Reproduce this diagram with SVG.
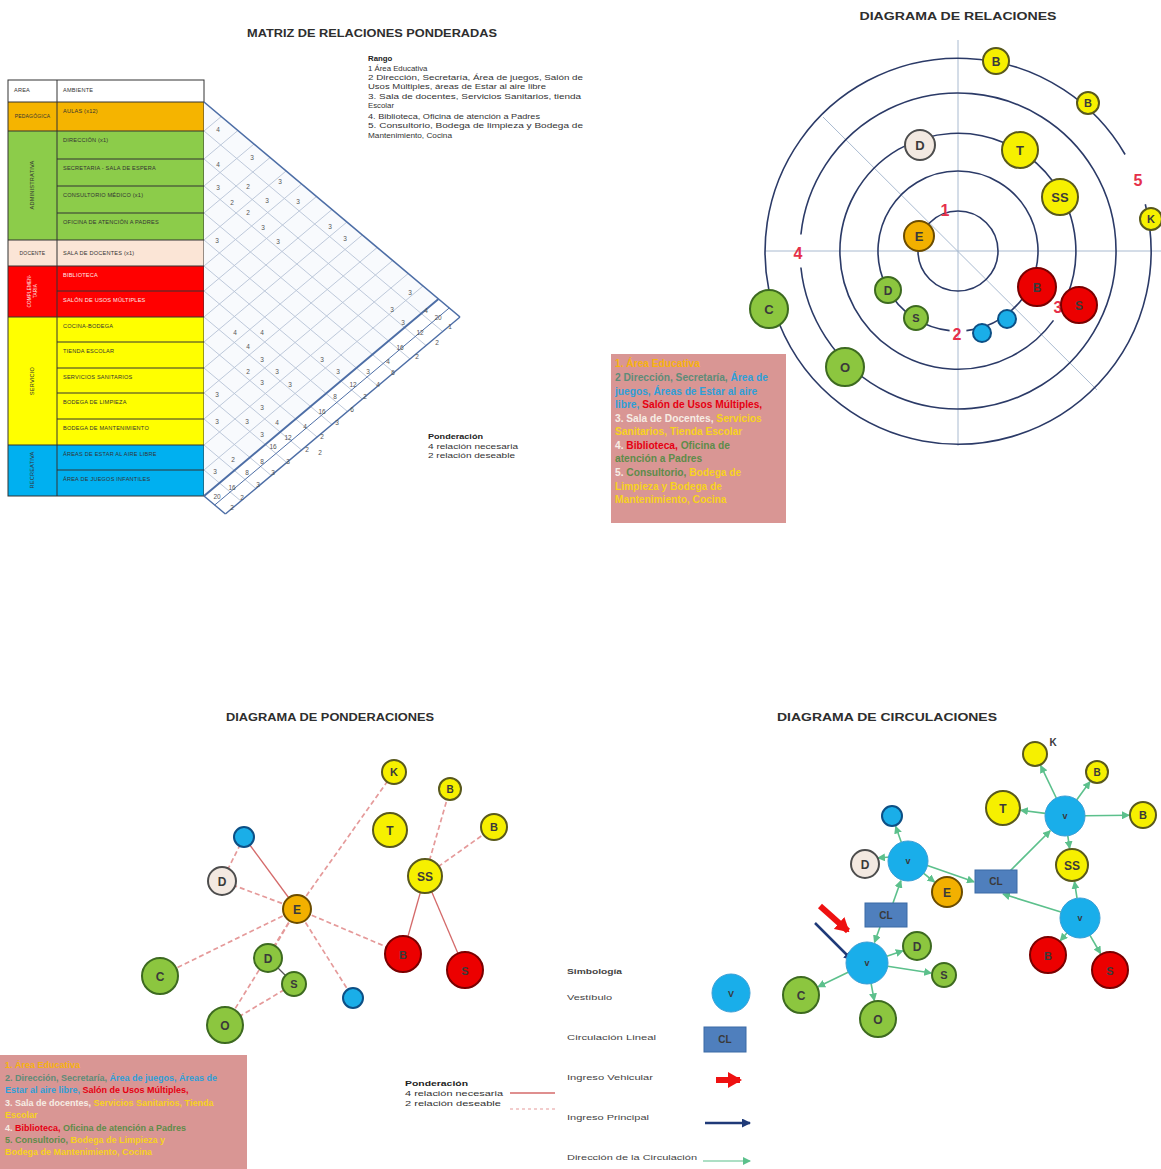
<svg xmlns="http://www.w3.org/2000/svg" width="1161" height="1169" viewBox="0 0 1161 1169">
<style>
.title{font-family:"Liberation Sans",Arial,sans-serif;font-weight:bold;font-size:11.5px;fill:#2e2e2e;text-anchor:middle;}
.tb{font-family:"Liberation Sans",Arial,sans-serif;font-size:5.6px;fill:#333;letter-spacing:0.2px;}
.tw{font-family:"Liberation Sans",Arial,sans-serif;font-size:5.6px;fill:#fbe9e9;letter-spacing:0.2px;}
.mn{font-family:"Liberation Sans",Arial,sans-serif;font-size:6.5px;fill:#555;text-anchor:middle;}
.rg{font-family:"Liberation Sans",Arial,sans-serif;font-size:7.8px;fill:#333;}
.rgb{font-family:"Liberation Sans",Arial,sans-serif;font-size:7.8px;fill:#222;font-weight:bold;}
.ring{fill:none;stroke:#2b3a67;stroke-width:1.6;}
.axis{stroke:#a9bad0;stroke-width:1;fill:none;}
.grid{stroke:#b7c3d6;stroke-width:0.9;fill:none;}
.nl{font-family:"Liberation Sans",Arial,sans-serif;font-weight:bold;text-anchor:middle;fill:#3a3a3a;}
.num{font-family:"Liberation Sans",Arial,sans-serif;font-weight:bold;font-size:16px;fill:#e5304a;text-anchor:middle;}
.pk{font-family:"Liberation Sans",Arial,sans-serif;font-weight:bold;font-size:10.2px;}
.pk2{font-family:"Liberation Sans",Arial,sans-serif;font-weight:bold;font-size:9px;}
.ye{fill:#f6f000;stroke:#59591c;stroke-width:2;}
.gr{fill:#8cc63f;stroke:#3d6a20;stroke-width:2;}
.rd{fill:#ec0000;stroke:#7a0000;stroke-width:2;}
.bl{fill:#1aaee8;stroke:#0c4f85;stroke-width:2;}
.or{fill:#f2b000;stroke:#6b4c00;stroke-width:2;}
.be{fill:#f3e9e1;stroke:#4d4d4d;stroke-width:2;}
.vb{fill:#19aeea;stroke:#3a9fd6;stroke-width:1;}
.cl{fill:#4f7fbd;stroke:#3a6aa5;stroke-width:1;}
.dash{stroke:#e59a9a;stroke-width:1.7;stroke-dasharray:5 3;fill:none;}
.sol{stroke:#d46a6a;stroke-width:1.3;fill:none;}
.ga{stroke:#5cc08c;stroke-width:1.6;fill:none;marker-end:url(#gh);}
.lg{font-family:"Liberation Sans",Arial,sans-serif;font-size:7.6px;fill:#444;}
.c-or{fill:#f7b30f;} .c-te{fill:#5e8c78;} .c-bl{fill:#2f9fd8;} .c-rd{fill:#e60012;} .c-wh{fill:#f6ede4;} .c-ye{fill:#f7d21e;} .c-gr{fill:#5e8c4a;}
</style>
<defs>
<marker id="gh" markerWidth="8" markerHeight="8" refX="7" refY="4" orient="auto" markerUnits="userSpaceOnUse">
<path d="M0,0 L8,4 L0,8 Z" fill="#5cc08c"/>
</marker>
<marker id="nh" markerWidth="9" markerHeight="9" refX="8" refY="4.5" orient="auto" markerUnits="userSpaceOnUse">
<path d="M0,0 L9,4.5 L0,9 Z" fill="#1f3a78"/>
</marker>
<marker id="rh" markerWidth="14" markerHeight="16" refX="12" refY="8" orient="auto" markerUnits="userSpaceOnUse">
<path d="M0,0 L14,8 L0,16 Z" fill="#ee1111"/>
</marker>
</defs>

<!-- ================= MATRIZ ================= -->
<text class="title" x="372" y="37" textLength="250" lengthAdjust="spacingAndGlyphs">MATRIZ DE RELACIONES PONDERADAS</text>

<g id="matrix-table">
<rect x="8" y="80" width="196" height="22" fill="#ffffff"/>
<rect x="8" y="102" width="196" height="29" fill="#f5b400"/>
<rect x="8" y="131" width="196" height="109" fill="#8ccc4a"/>
<rect x="8" y="240" width="196" height="26" fill="#fbe5d6"/>
<rect x="8" y="266" width="196" height="51" fill="#ff0000"/>
<rect x="8" y="317" width="196" height="128" fill="#ffff00"/>
<rect x="8" y="445" width="196" height="51" fill="#00b0f0"/>
<g stroke="#333" stroke-width="1" fill="none">
<rect x="8" y="80" width="196" height="416"/>
<line x1="57" y1="80" x2="57" y2="496"/>
<line x1="8" y1="102" x2="204" y2="102"/>
<line x1="8" y1="131" x2="204" y2="131"/>
<line x1="57" y1="159" x2="204" y2="159"/>
<line x1="57" y1="186" x2="204" y2="186"/>
<line x1="57" y1="213" x2="204" y2="213"/>
<line x1="8" y1="240" x2="204" y2="240"/>
<line x1="8" y1="266" x2="204" y2="266"/>
<line x1="57" y1="291" x2="204" y2="291"/>
<line x1="8" y1="317" x2="204" y2="317"/>
<line x1="57" y1="342" x2="204" y2="342"/>
<line x1="57" y1="368" x2="204" y2="368"/>
<line x1="57" y1="393" x2="204" y2="393"/>
<line x1="57" y1="419" x2="204" y2="419"/>
<line x1="8" y1="445" x2="204" y2="445"/>
<line x1="57" y1="470" x2="204" y2="470"/>
</g>
<text class="tb" x="14" y="92">AREA</text>
<text class="tb" x="63" y="92">AMBIENTE</text>
<text class="tb" x="32.5" y="118" text-anchor="middle" style="font-size:5px">PEDAGÓGICA</text>
<text class="tb" x="63" y="113">AULAS (x12)</text>
<text class="tb" x="34" y="185" text-anchor="middle" transform="rotate(-90 34 185)">ADMINISTRATIVA</text>
<text class="tb" x="63" y="142">DIRECCIÓN (x1)</text>
<text class="tb" x="63" y="170">SECRETARIA - SALA DE ESPERA</text>
<text class="tb" x="63" y="197">CONSULTORIO MÉDICO (x1)</text>
<text class="tb" x="63" y="224">OFICINA DE ATENCIÓN A PADRES</text>
<text class="tb" x="32.5" y="255" text-anchor="middle" style="font-size:5px">DOCENTE</text>
<text class="tb" x="63" y="255">SALA DE DOCENTES (x1)</text>
<text class="tw" x="31" y="291" text-anchor="middle" transform="rotate(-90 31 291)" style="font-size:4.6px">COMPLEMEN-</text>
<text class="tw" x="37" y="291" text-anchor="middle" transform="rotate(-90 37 291)" style="font-size:4.6px">TARIA</text>
<text class="tw" x="63" y="277">BIBLIOTECA</text>
<text class="tw" x="63" y="302">SALÓN DE USOS MÚLTIPLES</text>
<text class="tb" x="34" y="381" text-anchor="middle" transform="rotate(-90 34 381)">SERVICIO</text>
<text class="tb" x="63" y="328">COCINA-BODEGA</text>
<text class="tb" x="63" y="353">TIENDA ESCOLAR</text>
<text class="tb" x="63" y="379">SERVICIOS SANITARIOS</text>
<text class="tb" x="63" y="404">BODEGA DE LIMPIEZA</text>
<text class="tb" x="63" y="430">BODEGA DE MANTENIMIENTO</text>
<text class="tb" x="34" y="470" text-anchor="middle" transform="rotate(-90 34 470)">RECREATIVA</text>
<text class="tb" x="63" y="456">ÁREAS DE ESTAR AL AIRE LIBRE</text>
<text class="tb" x="63" y="481">ÁREA DE JUEGOS INFANTILES</text>
</g>

<g id="matrix-grid">
<polygon points="204,102 438.5,299 204,496" fill="#f8fafd"/>
<g class="grid">
<line x1="204" y1="131" x2="442.7" y2="331.5"/>
<line x1="204" y1="159" x2="426" y2="345.5"/>
<line x1="204" y1="186" x2="410" y2="359"/>
<line x1="204" y1="213" x2="393.9" y2="372.5"/>
<line x1="204" y1="240" x2="377.8" y2="386"/>
<line x1="204" y1="266" x2="362.3" y2="399"/>
<line x1="204" y1="291" x2="347.5" y2="411.5"/>
<line x1="204" y1="317" x2="332" y2="424.5"/>
<line x1="204" y1="342" x2="317.1" y2="437"/>
<line x1="204" y1="368" x2="301.6" y2="450"/>
<line x1="204" y1="393" x2="286.7" y2="462.5"/>
<line x1="204" y1="419" x2="271.3" y2="475.5"/>
<line x1="204" y1="445" x2="255.8" y2="488.5"/>
<line x1="204" y1="470" x2="240.9" y2="501"/>
<line x1="204" y1="131" x2="221.3" y2="116.5"/>
<line x1="204" y1="159" x2="237.9" y2="130.5"/>
<line x1="204" y1="186" x2="254" y2="144"/>
<line x1="204" y1="213" x2="270.1" y2="157.5"/>
<line x1="204" y1="240" x2="286.1" y2="171"/>
<line x1="204" y1="266" x2="301.6" y2="184"/>
<line x1="204" y1="291" x2="316.5" y2="196.5"/>
<line x1="204" y1="317" x2="332" y2="209.5"/>
<line x1="204" y1="342" x2="346.9" y2="222"/>
<line x1="204" y1="368" x2="362.3" y2="235"/>
<line x1="204" y1="393" x2="377.2" y2="247.5"/>
<line x1="204" y1="419" x2="392.7" y2="260.5"/>
<line x1="204" y1="445" x2="408.2" y2="273.5"/>
<line x1="204" y1="470" x2="423" y2="286"/>
</g>
<g fill="none" stroke="#4d6ea6">
<line x1="204" y1="102" x2="460" y2="317" stroke-width="1.6"/>
<line x1="204" y1="496" x2="438.5" y2="299" stroke-width="2"/>
<line x1="214.7" y1="505" x2="449.2" y2="308" stroke-width="1"/>
<line x1="225.4" y1="514" x2="460" y2="317" stroke-width="1.4"/>
<line x1="204" y1="496" x2="225.4" y2="514" stroke-width="1.4"/>
</g>
<g>
<text class="mn" x="218" y="132">4</text><text class="mn" x="252" y="160">3</text><text class="mn" x="218" y="167">4</text>
<text class="mn" x="280" y="184">3</text><text class="mn" x="218" y="190">3</text><text class="mn" x="248" y="189">2</text>
<text class="mn" x="298" y="204">3</text><text class="mn" x="232" y="205">2</text><text class="mn" x="267" y="203">3</text>
<text class="mn" x="248" y="215">2</text><text class="mn" x="263" y="230">3</text><text class="mn" x="330" y="229">3</text>
<text class="mn" x="345" y="241">3</text><text class="mn" x="217" y="243">3</text><text class="mn" x="278" y="244">3</text>
<text class="mn" x="410" y="295">3</text><text class="mn" x="392" y="312">3</text><text class="mn" x="426" y="313">4</text>
<text class="mn" x="438" y="320">20</text><text class="mn" x="403" y="325">3</text><text class="mn" x="450" y="329">1</text>
<text class="mn" x="235" y="335">4</text><text class="mn" x="262" y="335">4</text><text class="mn" x="420" y="335">12</text>
<text class="mn" x="248" y="349">4</text><text class="mn" x="400" y="350">16</text><text class="mn" x="437" y="345">2</text>
<text class="mn" x="262" y="362">3</text><text class="mn" x="322" y="362">3</text><text class="mn" x="388" y="364">4</text>
<text class="mn" x="417" y="359">2</text><text class="mn" x="248" y="374">2</text><text class="mn" x="277" y="374">3</text>
<text class="mn" x="338" y="374">3</text><text class="mn" x="368" y="374">3</text><text class="mn" x="393" y="375">6</text>
<text class="mn" x="262" y="385">3</text><text class="mn" x="290" y="387">3</text><text class="mn" x="353" y="387">12</text>
<text class="mn" x="378" y="387">4</text><text class="mn" x="217" y="397">3</text><text class="mn" x="335" y="399">8</text>
<text class="mn" x="365" y="399">2</text><text class="mn" x="262" y="410">3</text><text class="mn" x="322" y="414">16</text>
<text class="mn" x="352" y="412">6</text><text class="mn" x="217" y="424">3</text><text class="mn" x="247" y="424">3</text>
<text class="mn" x="277" y="425">4</text><text class="mn" x="305" y="429">4</text><text class="mn" x="337" y="425">3</text>
<text class="mn" x="262" y="437">3</text><text class="mn" x="288" y="440">12</text><text class="mn" x="322" y="439">2</text>
<text class="mn" x="273" y="449">16</text><text class="mn" x="307" y="452">2</text><text class="mn" x="233" y="462">2</text>
<text class="mn" x="262" y="464">8</text><text class="mn" x="288" y="464">3</text><text class="mn" x="320" y="455">2</text>
<text class="mn" x="215" y="474">3</text><text class="mn" x="247" y="475">8</text><text class="mn" x="273" y="475">3</text>
<text class="mn" x="232" y="490">16</text><text class="mn" x="258" y="487">3</text><text class="mn" x="217" y="499">20</text>
<text class="mn" x="242" y="500">2</text><text class="mn" x="232" y="510">2</text>
</g>
</g>

<g id="rango">
<text class="rgb" x="368" y="61">Rango</text>
<text class="rg" x="368" y="71">1 Área Educativa</text>
<text class="rg" x="368" y="80" textLength="215" lengthAdjust="spacingAndGlyphs">2 Dirección, Secretaría, Área de juegos, Salón de</text>
<text class="rg" x="368" y="89" textLength="178" lengthAdjust="spacingAndGlyphs">Usos Múltiples, áreas de Estar al aire libre</text>
<text class="rg" x="368" y="99" textLength="213" lengthAdjust="spacingAndGlyphs">3. Sala de docentes, Servicios Sanitarios, tienda</text>
<text class="rg" x="368" y="108">Escolar</text>
<text class="rg" x="368" y="119" textLength="172" lengthAdjust="spacingAndGlyphs">4. Biblioteca, Oficina de atención a Padres</text>
<text class="rg" x="368" y="128" textLength="215" lengthAdjust="spacingAndGlyphs">5. Consultorio, Bodega de limpieza y Bodega de</text>
<text class="rg" x="368" y="138" textLength="84" lengthAdjust="spacingAndGlyphs">Mantenimiento, Cocina</text>
</g>

<g id="ponderacion-top">
<text class="rgb" x="428" y="439" style="font-size:7px" textLength="55" lengthAdjust="spacingAndGlyphs">Ponderación</text>
<text class="rg" x="428" y="449" style="font-size:7px" textLength="90" lengthAdjust="spacingAndGlyphs">4 relación necesaria</text>
<text class="rg" x="428" y="458" style="font-size:7px" textLength="87" lengthAdjust="spacingAndGlyphs">2 relación deseable</text>
</g>

<!-- ================= DIAGRAMA DE RELACIONES ================= -->
<text class="title" x="958" y="20" textLength="197" lengthAdjust="spacingAndGlyphs">DIAGRAMA DE RELACIONES</text>
<g id="rel-rings">
<line class="axis" x1="958" y1="40" x2="958" y2="446"/>
<line class="axis" x1="765" y1="251" x2="1161" y2="251"/>
<line class="axis" x1="823" y1="117" x2="1097" y2="390"/>
<circle class="ring" cx="958" cy="251" r="40"/>
<path class="ring" d="M949.6,330.6 A80,80 0 1 1 966.4,330.6"/>
<path class="ring" d="M1053.5,320.4 A118,118 0 1 1 1067.4,295.2"/>
<path class="ring" d="M800.9,234.5 A158,158 0 1 1 800.9,267.5"/>
<path class="ring" d="M1145.3,204.3 A193,193 0 1 1 1125.1,154.5"/>
<text class="num" x="945" y="216">1</text>
<text class="num" x="957" y="340">2</text>
<text class="num" x="1058" y="313">3</text>
<text class="num" x="798" y="259">4</text>
<text class="num" x="1138" y="186">5</text>
</g>
<g id="rel-B1"><circle class="ye" cx="996" cy="61" r="13"/><text class="nl" x="996" y="65.5" font-size="12">B</text></g>
<g id="rel-B2"><circle class="ye" cx="1088" cy="103" r="11"/><text class="nl" x="1088" y="107" font-size="11">B</text></g>
<g id="rel-D1"><circle class="be" cx="920" cy="145" r="15"/><text class="nl" x="920" y="150" font-size="13">D</text></g>
<g id="rel-T"><circle class="ye" cx="1020" cy="150" r="18"/><text class="nl" x="1020" y="155" font-size="13">T</text></g>
<g id="rel-SS"><circle class="ye" cx="1060" cy="197" r="18"/><text class="nl" x="1060" y="202" font-size="13">SS</text></g>
<g id="rel-K"><circle class="ye" cx="1151" cy="219" r="11"/><text class="nl" x="1151" y="223" font-size="11">K</text></g>
<g id="rel-E"><circle class="or" cx="919" cy="236" r="15"/><text class="nl" x="919" y="241" font-size="13">E</text></g>
<g id="rel-D2"><circle class="gr" cx="888" cy="290" r="13"/><text class="nl" x="888" y="294.5" font-size="12">D</text></g>
<g id="rel-S1"><circle class="gr" cx="916" cy="318" r="12"/><text class="nl" x="916" y="322" font-size="11">S</text></g>
<g id="rel-V1"><circle class="bl" cx="982" cy="333" r="9"/></g>
<g id="rel-V2"><circle class="bl" cx="1007" cy="319" r="9"/></g>
<g id="rel-RB"><circle class="rd" cx="1037" cy="287" r="19"/><text class="nl" x="1037" y="292" font-size="12" fill="#7a0000">B</text></g>
<g id="rel-RS"><circle class="rd" cx="1079" cy="305" r="18"/><text class="nl" x="1079" y="310" font-size="12" fill="#7a0000">S</text></g>
<g id="rel-C"><circle class="gr" cx="769" cy="309" r="19"/><text class="nl" x="769" y="314" font-size="13">C</text></g>
<g id="rel-O"><circle class="gr" cx="845" cy="367" r="19"/><text class="nl" x="845" y="372" font-size="13">O</text></g>

<g id="rel-legend">
<rect x="611" y="354" width="175" height="169" fill="#d99694"/>
<text class="pk" x="615" y="367"><tspan class="c-or">1. Área Educativa</tspan></text>
<text class="pk" x="615" y="381"><tspan class="c-te">2 Dirección, Secretaría, </tspan><tspan class="c-bl">Área de</tspan></text>
<text class="pk" x="615" y="395"><tspan class="c-bl">juegos, Áreas de Estar al aire</tspan></text>
<text class="pk" x="615" y="408"><tspan class="c-bl">libre, </tspan><tspan class="c-rd">Salón de Usos Múltiples,</tspan></text>
<text class="pk" x="615" y="422"><tspan class="c-wh">3. Sala de Docentes, </tspan><tspan class="c-ye">Servicios</tspan></text>
<text class="pk" x="615" y="435"><tspan class="c-ye">Sanitarios, Tienda Escolar</tspan></text>
<text class="pk" x="615" y="449"><tspan class="c-wh">4. </tspan><tspan class="c-rd">Biblioteca, </tspan><tspan class="c-gr">Oficina de</tspan></text>
<text class="pk" x="615" y="462"><tspan class="c-gr">atención a Padres</tspan></text>
<text class="pk" x="615" y="476"><tspan class="c-wh">5. </tspan><tspan class="c-gr">Consultorio, </tspan><tspan class="c-ye">Bodega de</tspan></text>
<text class="pk" x="615" y="490"><tspan class="c-ye">Limpieza y Bodega de</tspan></text>
<text class="pk" x="615" y="503"><tspan class="c-ye">Mantenimiento, Cocina</tspan></text>
</g>

<!-- ================= DIAGRAMA DE PONDERACIONES ================= -->
<text class="title" x="330" y="721" textLength="208" lengthAdjust="spacingAndGlyphs">DIAGRAMA DE PONDERACIONES</text>
<g id="pond-connectors">
<line class="sol" x1="297" y1="909" x2="244" y2="837"/>
<line class="dash" x1="297" y1="909" x2="394" y2="772"/>
<line class="dash" x1="244" y1="837" x2="222" y2="881"/>
<line class="dash" x1="297" y1="909" x2="222" y2="881"/>
<line class="dash" x1="297" y1="909" x2="160" y2="976"/>
<line class="dash" x1="297" y1="909" x2="225" y2="1025"/>
<line class="dash" x1="297" y1="909" x2="268" y2="958"/>
<line class="dash" x1="225" y1="1025" x2="294" y2="984"/>
<line class="dash" x1="297" y1="909" x2="353" y2="998"/>
<line class="dash" x1="297" y1="909" x2="403" y2="954"/>
<line class="dash" x1="425" y1="876" x2="450" y2="789"/>
<line class="dash" x1="425" y1="876" x2="494" y2="827"/>
<line class="sol" x1="425" y1="876" x2="403" y2="954"/>
<line class="sol" x1="425" y1="876" x2="465" y2="970"/>
<line x1="268" y1="958" x2="294" y2="984" stroke="#555" stroke-width="1.2"/>
</g>
<g id="pond-K"><circle class="ye" cx="394" cy="772" r="12"/><text class="nl" x="394" y="776" font-size="11">K</text></g>
<g id="pond-B1"><circle class="ye" cx="450" cy="789" r="11"/><text class="nl" x="450" y="793" font-size="10">B</text></g>
<g id="pond-T"><circle class="ye" cx="390" cy="830" r="17"/><text class="nl" x="390" y="835" font-size="12">T</text></g>
<g id="pond-B2"><circle class="ye" cx="494" cy="827" r="13"/><text class="nl" x="494" y="831" font-size="11">B</text></g>
<g id="pond-V1"><circle class="bl" cx="244" cy="837" r="10"/></g>
<g id="pond-SS"><circle class="ye" cx="425" cy="876" r="17"/><text class="nl" x="425" y="880.5" font-size="12">SS</text></g>
<g id="pond-D1"><circle class="be" cx="222" cy="881" r="14"/><text class="nl" x="222" y="885.5" font-size="12">D</text></g>
<g id="pond-E"><circle class="or" cx="297" cy="909" r="14"/><text class="nl" x="297" y="913.5" font-size="12">E</text></g>
<g id="pond-RB"><circle class="rd" cx="403" cy="954" r="18"/><text class="nl" x="403" y="958.5" font-size="11" fill="#7a0000">B</text></g>
<g id="pond-RS"><circle class="rd" cx="465" cy="970" r="18"/><text class="nl" x="465" y="974.5" font-size="11" fill="#7a0000">S</text></g>
<g id="pond-D2"><circle class="gr" cx="268" cy="958" r="14"/><text class="nl" x="268" y="962.5" font-size="12">D</text></g>
<g id="pond-S"><circle class="gr" cx="294" cy="984" r="12"/><text class="nl" x="294" y="988" font-size="11">S</text></g>
<g id="pond-C"><circle class="gr" cx="160" cy="976" r="18"/><text class="nl" x="160" y="981" font-size="12">C</text></g>
<g id="pond-V2"><circle class="bl" cx="353" cy="998" r="10"/></g>
<g id="pond-O"><circle class="gr" cx="225" cy="1025" r="18"/><text class="nl" x="225" y="1030" font-size="12">O</text></g>

<g id="pond-legend-box">
<rect x="0" y="1055" width="247" height="114" fill="#d99694"/>
<text class="pk2" x="5" y="1068"><tspan class="c-or">1. Área Educativa</tspan></text>
<text class="pk2" x="5" y="1081"><tspan class="c-te">2. Dirección, Secretaría, </tspan><tspan class="c-bl">Área de juegos, Áreas de</tspan></text>
<text class="pk2" x="5" y="1093"><tspan class="c-bl">Estar al aire libre, </tspan><tspan class="c-rd">Salón de Usos Múltiples,</tspan></text>
<text class="pk2" x="5" y="1106"><tspan class="c-wh">3. Sala de docentes, </tspan><tspan class="c-ye">Servicios Sanitarios, Tienda</tspan></text>
<text class="pk2" x="5" y="1118"><tspan class="c-ye">Escolar</tspan></text>
<text class="pk2" x="5" y="1131"><tspan class="c-wh">4. </tspan><tspan class="c-rd">Biblioteca, </tspan><tspan class="c-gr">Oficina de atención a Padres</tspan></text>
<text class="pk2" x="5" y="1143"><tspan class="c-gr">5. Consultorio, </tspan><tspan class="c-ye">Bodega de Limpieza y</tspan></text>
<text class="pk2" x="5" y="1155"><tspan class="c-ye">Bodega de Mantenimiento, Cocina</tspan></text>
</g>

<g id="pond-legend">
<text class="rgb" x="405" y="1086" style="font-size:7px" textLength="63" lengthAdjust="spacingAndGlyphs">Ponderación</text>
<text class="rg" x="405" y="1096" style="font-size:7px" textLength="98" lengthAdjust="spacingAndGlyphs">4 relación necesaria</text>
<text class="rg" x="405" y="1106" style="font-size:7px" textLength="96" lengthAdjust="spacingAndGlyphs">2 relación deseable</text>
<line class="sol" x1="510" y1="1093" x2="555" y2="1093"/>
<line class="dash" x1="510" y1="1109" x2="555" y2="1109" style="stroke-width:1.2;stroke-dasharray:3 3"/>
</g>

<!-- ================= SIMBOLOGIA ================= -->
<g id="simbologia">
<text class="lg" x="567" y="974" font-weight="bold" textLength="55" lengthAdjust="spacingAndGlyphs">Simbología</text>
<text class="lg" x="567" y="1000" textLength="45" lengthAdjust="spacingAndGlyphs">Vestíbulo</text>
<circle class="vb" cx="731" cy="993" r="19"/><text class="nl" x="731" y="996.5" font-size="9">V</text>
<text class="lg" x="567" y="1040" textLength="89" lengthAdjust="spacingAndGlyphs">Circulación Lineal</text>
<rect class="cl" x="704" y="1027" width="42" height="25"/><text class="nl" x="725" y="1043" font-size="10" fill="#1d3557">CL</text>
<text class="lg" x="567" y="1080" textLength="86" lengthAdjust="spacingAndGlyphs">Ingreso Vehicular</text>
<line x1="716" y1="1080" x2="740" y2="1080" stroke="#ee1111" stroke-width="6" marker-end="url(#rh)"/>
<text class="lg" x="567" y="1120" textLength="82" lengthAdjust="spacingAndGlyphs">Ingreso Principal</text>
<line x1="705" y1="1123" x2="750" y2="1123" stroke="#1f3a78" stroke-width="2.5" marker-end="url(#nh)"/>
<text class="lg" x="567" y="1160" textLength="130" lengthAdjust="spacingAndGlyphs">Dirección de la Circulación</text>
<line class="ga" x1="703" y1="1161" x2="750" y2="1161" style="stroke-width:1.2"/>
</g>

<!-- ================= DIAGRAMA DE CIRCULACIONES ================= -->
<text class="title" x="887" y="721" textLength="220" lengthAdjust="spacingAndGlyphs">DIAGRAMA DE CIRCULACIONES</text>
<g id="circ-connectors">
<line class="ga" x1="1056.3" y1="798" x2="1040.7" y2="765.7"/>
<line class="ga" x1="1076.8" y1="799.8" x2="1089.9" y2="781.7"/>
<line class="ga" x1="1045.2" y1="813.4" x2="1020.9" y2="810.3"/>
<line class="ga" x1="1085" y1="815.7" x2="1129" y2="815.2"/>
<line class="ga" x1="1067.8" y1="835.8" x2="1069.6" y2="848.2"/>
<line class="ga" x1="1077" y1="898.2" x2="1074.5" y2="881.8"/>
<line class="ga" x1="1010" y1="871" x2="1050.2" y2="830.8"/>
<line class="ga" x1="927.4" y1="865.6" x2="974" y2="881.8"/>
<line class="ga" x1="1060.9" y1="912" x2="1003" y2="894"/>
<line class="ga" x1="1066.9" y1="933.1" x2="1060.4" y2="940.6"/>
<line class="ga" x1="1090" y1="935.3" x2="1100.5" y2="953.5"/>
<line class="ga" x1="901.3" y1="842.2" x2="895.7" y2="826.4"/>
<line class="ga" x1="890" y1="857" x2="878" y2="858"/>
<line class="ga" x1="923.7" y1="873.4" x2="934.5" y2="882"/>
<line class="ga" x1="893" y1="903" x2="900.9" y2="880.8"/>
<line class="ga" x1="880" y1="927" x2="874.5" y2="942.3"/>
<line class="ga" x1="886.9" y1="956.2" x2="902.8" y2="950.8"/>
<line class="ga" x1="887.7" y1="966.2" x2="931.2" y2="973"/>
<line class="ga" x1="848.1" y1="972.2" x2="818.1" y2="986.7"/>
<line class="ga" x1="871.1" y1="983.6" x2="874.3" y2="1000.4"/>
<line x1="820" y1="906" x2="848" y2="931" stroke="#ee1111" stroke-width="6" marker-end="url(#rh)"/>
<line x1="815" y1="923" x2="852" y2="960" stroke="#1f3a78" stroke-width="2.5" marker-end="url(#nh)"/>
</g>
<g id="circ-K"><circle class="ye" cx="1035" cy="754" r="12"/><text class="nl" x="1053" y="746" font-size="10" fill="#555">K</text></g>
<g id="circ-B1"><circle class="ye" cx="1097" cy="772" r="11"/><text class="nl" x="1097" y="776" font-size="10">B</text></g>
<g id="circ-T"><circle class="ye" cx="1003" cy="808" r="17"/><text class="nl" x="1003" y="813" font-size="12">T</text></g>
<g id="circ-V1"><circle class="vb" cx="1065" cy="816" r="20"/><text class="nl" x="1065" y="819" font-size="9">v</text></g>
<g id="circ-B2"><circle class="ye" cx="1143" cy="815" r="13"/><text class="nl" x="1143" y="819" font-size="11">B</text></g>
<g id="circ-SS"><circle class="ye" cx="1072" cy="865" r="16"/><text class="nl" x="1072" y="869.5" font-size="12">SS</text></g>
<g id="circ-V3"><circle class="vb" cx="1080" cy="918" r="20"/><text class="nl" x="1080" y="921" font-size="9">v</text></g>
<g id="circ-RB"><circle class="rd" cx="1048" cy="955" r="18"/><text class="nl" x="1048" y="959.5" font-size="11" fill="#7a0000">B</text></g>
<g id="circ-RS"><circle class="rd" cx="1110" cy="970" r="18"/><text class="nl" x="1110" y="974.5" font-size="11" fill="#7a0000">S</text></g>
<g id="circ-CL1"><rect class="cl" x="975" y="870" width="42" height="23"/><text class="nl" x="996" y="885" font-size="10" fill="#1d3557">CL</text></g>
<g id="circ-BL"><circle class="bl" cx="892" cy="816" r="10"/></g>
<g id="circ-D1"><circle class="be" cx="865" cy="864" r="14"/><text class="nl" x="865" y="868.5" font-size="12">D</text></g>
<g id="circ-V2"><circle class="vb" cx="908" cy="861" r="20"/><text class="nl" x="908" y="864" font-size="9">v</text></g>
<g id="circ-E"><circle class="or" cx="947" cy="892" r="15"/><text class="nl" x="947" y="896.5" font-size="12">E</text></g>
<g id="circ-CL2"><rect class="cl" x="865" y="903" width="42" height="24"/><text class="nl" x="886" y="918.5" font-size="10" fill="#1d3557">CL</text></g>
<g id="circ-D2"><circle class="gr" cx="917" cy="946" r="14"/><text class="nl" x="917" y="950.5" font-size="12">D</text></g>
<g id="circ-V4"><circle class="vb" cx="867" cy="963" r="21"/><text class="nl" x="867" y="966" font-size="9">v</text></g>
<g id="circ-S"><circle class="gr" cx="944" cy="975" r="12"/><text class="nl" x="944" y="979" font-size="11">S</text></g>
<g id="circ-C"><circle class="gr" cx="801" cy="995" r="18"/><text class="nl" x="801" y="1000" font-size="12">C</text></g>
<g id="circ-O"><circle class="gr" cx="878" cy="1019" r="18"/><text class="nl" x="878" y="1024" font-size="12">O</text></g>
</svg>
